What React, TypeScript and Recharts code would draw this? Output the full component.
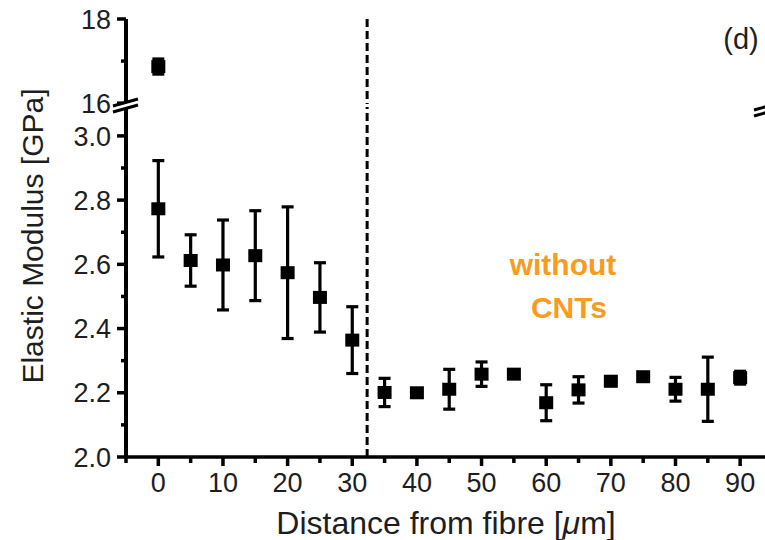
import React from "react";
import { ComposedChart, Scatter, XAxis, YAxis, ErrorBar, ReferenceLine } from "recharts";

// ---- data ----
const distUpper = [0];
const modUpper = [16.87];
const errUpper = [0.18];

const distLower = [0, 5, 10, 15, 20, 25, 30, 35, 40, 45, 50, 55, 60, 65, 70, 75, 80, 85, 90];
const modLower = [2.773, 2.612, 2.598, 2.627, 2.574, 2.497, 2.364, 2.201, 2.2, 2.211, 2.258, 2.258, 2.169, 2.209, 2.236, 2.25, 2.211, 2.211, 2.247];
const errLower = [0.15, 0.08, 0.14, 0.14, 0.205, 0.108, 0.104, 0.044, 0.008, 0.062, 0.038, 0.006, 0.056, 0.041, 0.014, 0.006, 0.037, 0.1, 0.02];

const xTicks = [-5, 0, 5, 10, 15, 20, 25, 30, 35, 40, 45, 50, 55, 60, 65, 70, 75, 80, 85, 90];
const yTicksUpper = [16, 17, 18];
const yTicksLower = [2.0, 2.1, 2.2, 2.3, 2.4, 2.5, 2.6, 2.7, 2.8, 2.9, 3.0];
const boundaryX = 32.3;

const xLabel = "Distance from fibre [";
const yLabel = "Elastic Modulus [GPa]";
const panelLabel = "(d)";
const noteLines = ["without", "CNTs"];

const upperData = distUpper.map((x, i) => ({ x, y: modUpper[i], err: errUpper[i] }));
const lowerData = distLower.map((x, i) => ({ x, y: modLower[i], err: errLower[i] }));

const FONT = "'Liberation Sans', Arial, Helvetica, sans-serif";
const TEXT = "#1e1e1e";

const SquareShape = (props: any) => {
  const { cx, cy } = props;
  if (cx == null || cy == null) return null;
  return <rect x={cx - 7} y={cy - 6.5} width={14} height={13} fill="#000" />;
};

const makeYTick = (isMajor: (v: number) => boolean, fmt: (v: number) => string) => (props: any) => {
  const { x, y, payload } = props;
  const v = payload.value as number;
  const major = isMajor(v);
  return (
    <g>
      <line x1={x} x2={x - (major ? 9 : 5)} y1={y} y2={y} stroke="#000" strokeWidth={3.5} />
      {major && (
        <text x={x - 15} y={y} dy="0.36em" textAnchor="end" fontSize={27} fontFamily={FONT} fill={TEXT}>
          {fmt(v)}
        </text>
      )}
    </g>
  );
};

const XTick = (props: any) => {
  const { x, y, payload } = props;
  const v = payload.value as number;
  const major = v % 10 === 0;
  return (
    <g>
      <line x1={x} x2={x} y1={y} y2={y + (major ? 9 : 6)} stroke="#000" strokeWidth={3.5} />
      {major && (
        <text x={x} y={y + 16} dy="0.71em" textAnchor="middle" fontSize={27} fontFamily={FONT} fill={TEXT}>
          {String(v)}
        </text>
      )}
    </g>
  );
};

const UpperTick = makeYTick((v) => Math.round(v) % 2 === 0, (v) => String(Math.round(v)));
const LowerTick = makeYTick((v) => Math.round(v * 10) % 2 === 0, (v) => v.toFixed(1));

export default function App() {
  return (
    <div style={{ position: "fixed", left: 0, top: 0, width: 765, height: 540, overflow: "hidden", background: "#fff" }}>
      <div style={{ position: "absolute", left: 0, top: 0 }}>
        <ComposedChart width={800} height={130} data={upperData} margin={{ top: 19, right: 34, bottom: 26, left: 0 }}>
          <XAxis
            xAxisId="t"
            orientation="top"
            type="number"
            dataKey="x"
            domain={[-5, 94]}
            allowDataOverflow
            height={0}
            tick={false}
            tickLine={false}
            stroke="#000"
            strokeWidth={3}
            axisLine={{ stroke: "#000", strokeWidth: 3 }}
          />
          <YAxis
            type="number"
            domain={[15.98, 18]}
            allowDataOverflow
            ticks={yTicksUpper}
            interval={0}
            width={126}
            tickSize={0}
            tickMargin={0}
            tickLine={false}
            tick={UpperTick}
            stroke="#000"
            strokeWidth={4}
            axisLine={{ stroke: "#000", strokeWidth: 4 }}
          />
          <ReferenceLine xAxisId="t" x={boundaryX} stroke="#000" strokeWidth={3} strokeDasharray="8 4" />
          <Scatter xAxisId="t" dataKey="y" fill="#000" shape={SquareShape} isAnimationActive={false}>
            <ErrorBar dataKey="err" direction="y" width={6} strokeWidth={3.2} stroke="#000" />
          </Scatter>
        </ComposedChart>
      </div>
      <div style={{ position: "absolute", left: 0, top: 0 }}>
        <ComposedChart width={800} height={540} data={lowerData} margin={{ top: 107, right: 34, bottom: 0, left: 0 }}>
          <XAxis
            type="number"
            dataKey="x"
            domain={[-5, 94]}
            allowDataOverflow
            ticks={xTicks}
            interval={0}
            height={83}
            tickSize={0}
            tickMargin={0}
            tickLine={false}
            tick={XTick}
            stroke="#000"
            strokeWidth={3.5}
            axisLine={{ stroke: "#000", strokeWidth: 3.5 }}
          />
          <YAxis
            type="number"
            domain={[2.0, 3.09]}
            allowDataOverflow
            ticks={yTicksLower}
            interval={0}
            width={126}
            tickSize={0}
            tickMargin={0}
            tickLine={false}
            tick={LowerTick}
            stroke="#000"
            strokeWidth={4}
            axisLine={{ stroke: "#000", strokeWidth: 4 }}
          />
          <ReferenceLine x={boundaryX} stroke="#000" strokeWidth={3} strokeDasharray="8 4" />
          <Scatter dataKey="y" fill="#000" shape={SquareShape} isAnimationActive={false}>
            <ErrorBar dataKey="err" direction="y" width={6} strokeWidth={3.2} stroke="#000" />
          </Scatter>
        </ComposedChart>
      </div>
      <svg style={{ position: "absolute", left: 0, top: 0 }} width={765} height={540}>
        {/* axis break marks */}
        <polygon points="113,106 138,99 138,105 113,112" fill="#fff" />
        <line x1={113} y1={106} x2={138} y2={99} stroke="#000" strokeWidth={3} />
        <line x1={113} y1={112} x2={138} y2={105} stroke="#000" strokeWidth={3} />
        <polygon points="754,110 779,103 779,109 754,116" fill="#fff" />
        <line x1={754} y1={110} x2={779} y2={103} stroke="#000" strokeWidth={3} />
        <line x1={754} y1={116} x2={779} y2={109} stroke="#000" strokeWidth={3} />
        <text x={741} y={49} textAnchor="middle" fontSize={29} fontFamily={FONT} fill={TEXT}>
          {panelLabel}
        </text>
        <text x={563} y={275} textAnchor="middle" fontSize={30} fontWeight="bold" fontFamily={FONT} fill="#F99B1C">
          {noteLines[0]}
        </text>
        <text x={569} y={318} textAnchor="middle" fontSize={30} fontWeight="bold" fontFamily={FONT} fill="#F99B1C">
          {noteLines[1]}
        </text>
        <text x={43} y={236} transform="rotate(-90 43 236)" textAnchor="middle" fontSize={30} fontFamily={FONT} fill={TEXT}>
          {yLabel}
        </text>
        <text x={446} y={534} textAnchor="middle" fontSize={32} fontFamily={FONT} fill={TEXT}>
          {xLabel}
          <tspan fontStyle="italic">μ</tspan>
          {"m]"}
        </text>
      </svg>
    </div>
  );
}
